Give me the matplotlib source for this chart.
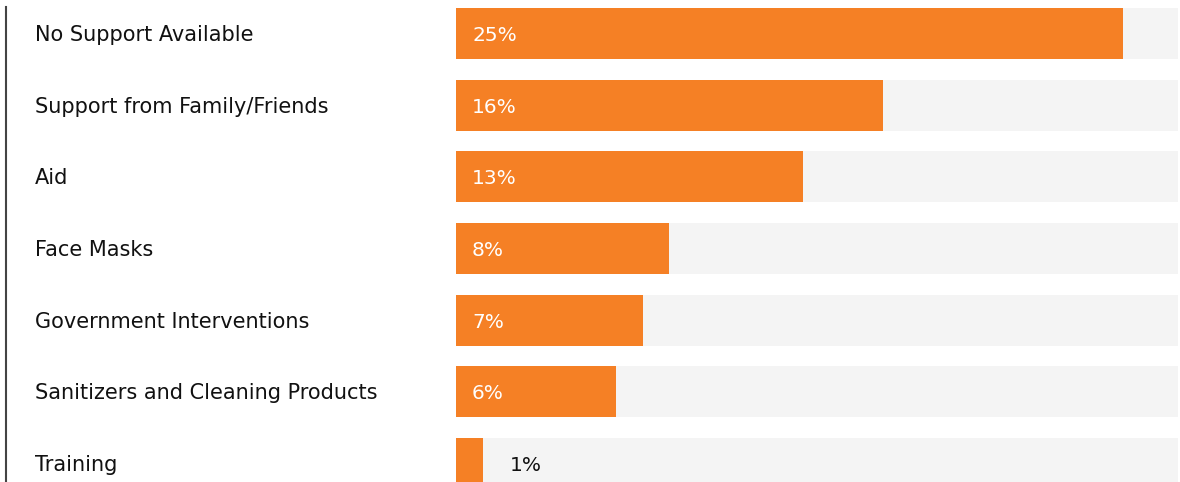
import matplotlib

matplotlib.use("Agg")
import matplotlib.pyplot as plt
from matplotlib.lines import Line2D

categories = [
    "No Support Available",
    "Support from Family/Friends",
    "Aid",
    "Face Masks",
    "Government Interventions",
    "Sanitizers and Cleaning Products",
    "Training",
]
values = [25, 16, 13, 8, 7, 6, 1]
scale_max = 27.06

ORANGE = "#F58025"
TRACK = "#F4F4F4"
TEXT = "#111111"

plt.rcParams["font.family"] = ["DejaVu Sans"]

W, H = 1180, 482
fig = plt.figure(figsize=(W / 100, H / 100), dpi=100)

# bar area: x from 456px to 1178px, full height
ax = fig.add_axes([456 / W, 0, (1178 - 456) / W, 1])
step_px = 71.67
top = -33.5 / step_px
bottom = (H - 33.5) / step_px
ax.set_ylim(bottom, top)
ax.set_xlim(0, scale_max)
ax.axis("off")

pos = list(range(len(categories)))
bar_h = 51 / step_px
ax.barh(pos, [scale_max] * len(pos), height=bar_h, color=TRACK, left=0, zorder=1)
ax.barh(pos, values, height=bar_h, color=ORANGE, zorder=2)

px_per_unit = (1178 - 456) / scale_max
for y, v in zip(pos, values):
    yb = y + 7.5 / step_px
    if v >= 3:
        ax.text(16 / px_per_unit, yb, f"{v}%", color="white", fontsize=14.5,
                va="baseline", ha="left", zorder=3)
    else:
        ax.text(v + 27 / px_per_unit, yb, f"{v}%", color=TEXT, fontsize=14.5,
                va="baseline", ha="left", zorder=3)

# category labels
for y, name in zip(pos, categories):
    yf = 1 - (y - top) / (bottom - top) - 7.5 / H
    fig.text(35 / W, yf, name, color=TEXT, fontsize=15, va="baseline", ha="left")

# left rule
fig.add_artist(Line2D([6 / W, 6 / W], [0, 1 - 7 / H], transform=fig.transFigure,
                      color="#444444", linewidth=1.5))

fig.savefig("out.png", dpi=100)
